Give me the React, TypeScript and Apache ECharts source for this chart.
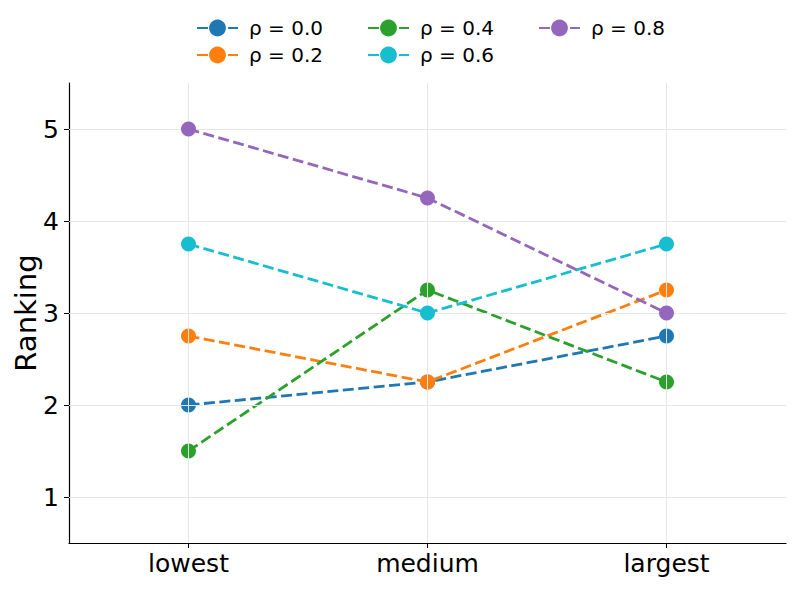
import React, { useEffect, useRef } from "react";
import * as echarts from "echarts";

const categories = ["lowest", "medium", "largest"];
const seriesNames = ["ρ = 0.0", "ρ = 0.2", "ρ = 0.4", "ρ = 0.6", "ρ = 0.8"];
const rho00 = [2.0, 2.25, 2.75];
const rho02 = [2.75, 2.25, 3.25];
const rho04 = [1.5, 3.25, 2.25];
const rho06 = [3.75, 3.0, 3.75];
const rho08 = [5.0, 4.25, 3.0];
const yTicks = [1, 2, 3, 4, 5];
const colors = ["#1f77b4", "#ff7f0e", "#2ca02c", "#17becf", "#9467bd"];

const allValues = [rho00, rho02, rho04, rho06, rho08];
const FONT = "DejaVu Sans";

// legend placement (matplotlib column-major layout)
const legendPos = [
  { left: 191, top: 13 },
  { left: 191, top: 40 },
  { left: 362, top: 13 },
  { left: 362, top: 40 },
  { left: 533, top: 13 },
];

export default function App() {
  const ref = useRef<HTMLDivElement>(null);
  useEffect(() => {
    if (!ref.current) return;
    const chart = echarts.init(ref.current, null, { renderer: "svg" });
    const catIdx = categories.map((_, i) => i);
    const gridMarks = [
      ...catIdx.map((i) => ({ xAxis: i })),
      ...yTicks.map((v) => ({ yAxis: v })),
    ];
    const series: any[] = [
      {
        type: "line",
        name: "__grid",
        data: [],
        z: 1,
        silent: true,
        markLine: {
          silent: true,
          symbol: ["none", "none"],
          label: { show: false },
          animation: false,
          lineStyle: { color: "#e6e6e6", type: "solid", width: 1 },
          emphasis: { disabled: true },
          data: gridMarks,
        },
      },
      ...seriesNames.map((name, k) => ({
        type: "line",
        name,
        z: 2 + k,
        data: allValues[k].map((v, i) => [i, v]),
        symbol: "circle",
        symbolSize: 15,
        itemStyle: { color: colors[k] },
        lineStyle: { color: colors[k], width: 2.8, type: [11, 4.5] },
        emphasis: { disabled: true },
      })),
    ];
    const legends = seriesNames.map((name, k) => ({
      data: [name],
      left: legendPos[k].left,
      top: legendPos[k].top,
      itemWidth: 41,
      itemHeight: 21,
      selectedMode: false,
      textStyle: {
        fontFamily: FONT,
        fontSize: 20,
        color: "#000",
        padding: [0, 0, 0, 6],
      },
    }));
    chart.setOption({
      animation: false,
      textStyle: { fontFamily: FONT },
      legend: legends,
      grid: {
        left: 69,
        right: 11,
        top: 83,
        bottom: 46,
        containLabel: false,
        outerBoundsMode: "none",
      },
      xAxis: {
        type: "value",
        min: -0.5,
        max: 2.5,
        splitLine: { show: false },
        axisLine: { show: true, onZero: false, lineStyle: { color: "#000", width: 1.2 } },
        axisTick: {
          show: true,
          length: 5,
          lineStyle: { color: "#000", width: 1 },
          customValues: catIdx,
        },
        axisLabel: {
          customValues: catIdx,
          formatter: (v: number) => categories[Math.round(v)] ?? "",
          fontFamily: FONT,
          fontSize: 25,
          color: "#000",
          margin: 8,
        },
      },
      yAxis: {
        type: "value",
        min: 0.5,
        max: 5.5,
        name: "Ranking",
        nameLocation: "middle",
        nameGap: 29,
        nameMoveOverlap: false,
        nameTextStyle: { fontFamily: FONT, fontSize: 29, color: "#000" },
        splitLine: { show: false },
        axisLine: { show: true, onZero: false, lineStyle: { color: "#000", width: 1.2 } },
        axisTick: {
          show: true,
          length: 5,
          lineStyle: { color: "#000", width: 1 },
          customValues: yTicks,
        },
        axisLabel: {
          customValues: yTicks,
          fontFamily: FONT,
          fontSize: 25,
          color: "#000",
          margin: 10,
        },
      },
      series,
    });
    return () => chart.dispose();
  }, []);
  return <div ref={ref} style={{ width: 797, height: 589, position: "absolute", left: 0, top: 0 }} />;
}
